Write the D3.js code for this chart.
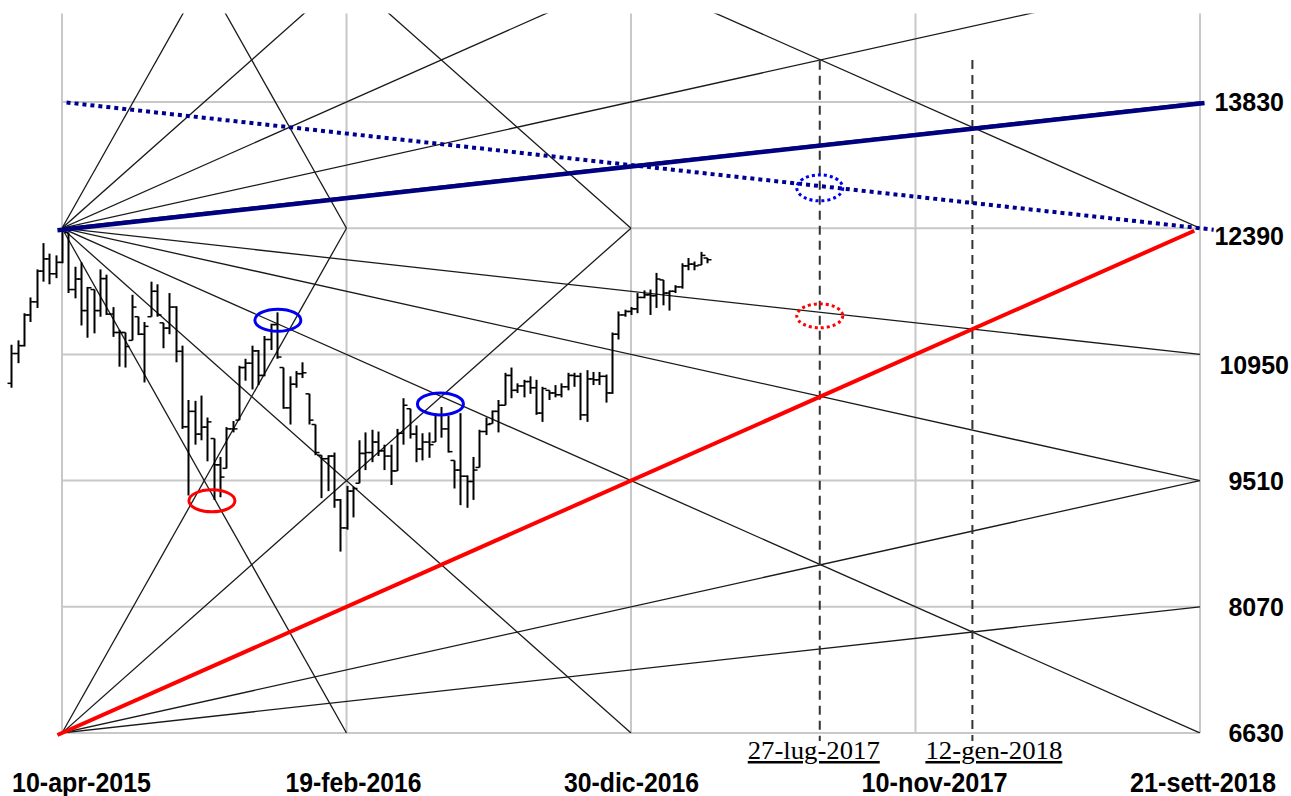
<!DOCTYPE html>
<html>
<head>
<meta charset="utf-8">
<script src="https://cdn.jsdelivr.net/npm/d3@7"></script>
<style>
  html, body { margin: 0; padding: 0; background: #fff; }
  svg { display: block; }
  .xlab { font-family: "Liberation Sans", Arial, sans-serif; font-weight: bold; font-size: 22px; fill: #000; }
  .ylab { font-family: "Liberation Sans", Arial, sans-serif; font-weight: bold; font-size: 25px; fill: #000; }
  .dlab { font-family: "Liberation Serif", "Times New Roman", serif; font-size: 25px; fill: #000; text-decoration: underline; }
</style>
</head>
<body>
<div id="chart"></div>
<script>
// time/price frame of the Gann square
const timeTicks = ["2015-04-10", "2016-02-19", "2016-12-30", "2017-11-10", "2018-09-21"];
const timeTickLabels = ["10-apr-2015", "19-feb-2016", "30-dic-2016", "10-nov-2017", "21-sett-2018"];
const priceTicks = [6630, 8070, 9510, 10950, 12390, 13830];
const priceTop = 14840;

// weekly bars: open, high, low, close (first bar week of 13-feb-2015)
const firstWeek = "2015-02-13";
const barOpen  = [10620,10960,11050,11400,11550,11900,12040,11870,12000,12340,11690,11810,11450,11690,11450,11815,11410,11200,11200,11110,11380,11180,11380,11670,11310,11250,11490,10985,10125,10300,10040,10120,9990,9690,9650,10100,10200,10800,10850,10990,10710,11120,11290,10800,10340,10610,10730,10500,10150,9800,9760,9790,9290,8970,9390,9480,9820,9830,9950,9850,9790,9620,10050,10330,10040,9870,9950,9950,10260,10100,9740,9630,9560,9500,9660,10070,10160,10300,10370,10710,10540,10590,10640,10570,10280,10540,10510,10490,10580,10710,10700,10260,10670,10660,10700,10510,11180,11400,11440,11470,11600,11630,11620,11800,11650,11670,11720,11960,11980,11970,12050];
const barHigh  = [11060,11110,11420,11600,11920,12220,12100,12080,12390,12340,11950,12000,11720,11690,11920,11860,11490,11230,11200,11630,11380,11320,11780,11750,11310,11650,11500,11050,10430,10420,10480,10230,9990,9780,10120,10190,10820,10900,11050,11000,11160,11300,11430,10800,10700,10760,10860,10500,10150,9800,9800,9830,9300,9450,9440,9970,10060,10090,10070,9920,9920,10100,10450,10330,10140,10050,10060,10280,10350,10250,9740,10280,9570,9780,10090,10230,10310,10430,10740,10800,10620,10660,10700,10660,10580,10540,10600,10620,10740,10740,10740,10770,10750,10750,10720,11200,11440,11460,11490,11650,11680,11690,11880,11800,11680,11740,11990,12050,12010,12120,12050];
const barLow   = [10570,10850,11040,11320,11480,11780,11750,11820,11990,11650,11590,11280,11140,11190,11380,11400,11150,10810,10800,11110,11170,10630,11380,11380,11020,11180,10860,10100,9340,9920,9970,9730,9290,9320,9650,10060,10200,10650,10550,10600,10700,11000,10900,10330,10150,10570,10680,10150,9800,9310,9390,9200,8700,8950,9090,9480,9630,9720,9790,9630,9460,9620,9920,9990,9720,9740,9770,9950,10000,9830,9420,9230,9200,9290,9660,10030,10160,10060,10370,10450,10510,10460,10500,10260,10180,10430,10460,10460,10540,10580,10200,10180,10600,10600,10400,10500,11120,11380,11400,11420,11590,11400,11480,11510,11450,11650,11700,11910,11910,11970,11990];
const barClose = [10960,11050,11400,11550,11900,12040,11870,12000,12375,11690,11810,11450,11710,11450,11815,11410,11200,11200,11040,11490,11180,11270,11670,11400,11250,11490,10985,10125,10300,10040,10120,10180,9690,9550,10100,10100,10800,10850,10990,10710,11120,11290,10920,10340,10610,10730,10740,10200,9830,9760,9790,9290,8970,9390,9420,9820,9830,9950,9850,9790,9620,10050,10370,10040,9870,9950,9920,10260,10100,9840,9630,9560,9500,9630,10070,10150,10300,10370,10710,10540,10590,10640,10570,10280,10560,10510,10490,10580,10710,10700,10260,10670,10660,10700,10510,11180,11400,11440,11470,11600,11630,11620,11810,11650,11670,11720,11960,11980,11960,12080,12030];

// fan lines: [date1, price1, date2, price2, ray?]  ray = keep going past point 2
const fanLines = [
  // from the 12390 top (10-apr-2015)
  ["2015-04-10", 12390, "2016-02-19", 18150, true],
  ["2015-04-10", 12390, "2016-02-19", 15270, true],
  ["2015-04-10", 12390, "2016-02-19", 13830, true],
  ["2015-04-10", 12390, "2016-12-30", 13830, true],
  ["2015-04-10", 12390, "2018-09-21", 13830, false],
  ["2015-04-10", 12390, "2018-09-21", 10950, false],
  ["2015-04-10", 12390, "2018-09-21", 9510, false],
  ["2015-04-10", 12390, "2018-09-21", 6630, false],
  ["2015-04-10", 12390, "2016-12-30", 6630, false],
  ["2015-04-10", 12390, "2016-02-19", 6630, false],
  // from the 6630 base
  ["2015-04-10", 6630, "2016-02-19", 12390, false],
  ["2015-04-10", 6630, "2016-12-30", 12390, false],
  ["2015-04-10", 6630, "2018-09-21", 9510, false],
  ["2015-04-10", 6630, "2018-09-21", 8070, false],
  // from the mirrored 18150 level
  ["2015-04-10", 18150, "2016-02-19", 12390, false],
  ["2015-04-10", 18150, "2016-12-30", 12390, false],
  ["2015-04-10", 18150, "2018-09-21", 12390, false]
];
const navyLine = ["2015-04-10", 12390, "2018-09-21", 13830];
const redLine = ["2015-04-10", 6630, "2018-09-21", 12390];
const dottedLine = ["2015-04-10", 13830, "2018-09-21", 12390];

// vertical time marks
const markDates = ["2017-07-27", "2018-01-12"];
const markLabels = ["27-lug-2017", "12-gen-2018"];
const markTop = [14300, 14310];

// highlighted spots: date, price, kind
const spots = [
  ["2015-09-23", 9280, "red"],
  ["2015-12-05", 11340, "blue"],
  ["2016-06-02", 10385, "blue"],
  ["2017-07-27", 12850, "blueDot"],
  ["2017-07-27", 11390, "redDot"]
];

const W = 1291, H = 796;
const parse = d3.timeParse("%Y-%m-%d");

const svg = d3.select("#chart").append("svg")
  .attr("width", W).attr("height", H);

const x = d3.scaleTime()
  .domain([parse(timeTicks[0]), parse(timeTicks[timeTicks.length - 1])])
  .range([62, 1200]);
const y = d3.scaleLinear()
  .domain([6630, 13830])
  .range([733, 102]);

const plotLeft = x.range()[0], plotRight = x.range()[1];
const plotTop = y(priceTop), plotBottom = y(6630);

svg.append("clipPath").attr("id", "plot")
  .append("rect")
  .attr("x", plotLeft).attr("y", plotTop)
  .attr("width", plotRight - plotLeft).attr("height", plotBottom - plotTop);

// grid
const grid = svg.append("g").attr("stroke", "#c8c8c8").attr("stroke-width", 2);
grid.selectAll("line.v").data(timeTicks).enter().append("line")
  .attr("x1", d => x(parse(d))).attr("x2", d => x(parse(d)))
  .attr("y1", plotTop).attr("y2", plotBottom);
grid.selectAll("line.h").data(priceTicks).enter().append("line")
  .attr("x1", plotLeft).attr("x2", plotRight)
  .attr("y1", d => y(d)).attr("y2", d => y(d));

// fan lines
function pt(d, p) { return [x(parse(d)), y(p)]; }
function lerp(a, b, t) { return [a[0] + (b[0] - a[0]) * t, a[1] + (b[1] - a[1]) * t]; }

const fans = svg.append("g").attr("clip-path", "url(#plot)");
fans.selectAll("line").data(fanLines).enter().append("line")
  .each(function(d) {
    const a = pt(d[0], d[1]), b = pt(d[2], d[3]);
    const e = d[4] ? lerp(a, b, 6) : b;
    d3.select(this)
      .attr("x1", a[0]).attr("y1", a[1])
      .attr("x2", e[0]).attr("y2", e[1]);
  })
  .attr("stroke", "#1a1a1a")
  .attr("stroke-width", 1.3);

// vertical dashed marks
const marks = svg.append("g");
markDates.forEach((d, i) => {
  const xx = x(parse(d));
  marks.append("line")
    .attr("x1", xx).attr("x2", xx)
    .attr("y1", y(markTop[i])).attr("y2", plotBottom + 8)
    .attr("stroke", "#333").attr("stroke-width", 2)
    .attr("stroke-dasharray", "9,6");
});

// price bars
const week0 = parse(firstWeek);
const bars = barClose.map((c, i) => ({
  date: d3.timeWeek.offset(week0, i),
  o: barOpen[i], h: barHigh[i], l: barLow[i], c: c
}));
const bg = svg.append("g").attr("stroke", "#000");
bars.forEach(b => {
  const xx = Math.round(x(b.date)) + 0.5;
  bg.append("line").attr("x1", xx).attr("x2", xx)
    .attr("y1", y(b.h)).attr("y2", y(b.l)).attr("stroke-width", 2);
  bg.append("line").attr("x1", xx - 4).attr("x2", xx)
    .attr("y1", y(b.o)).attr("y2", y(b.o)).attr("stroke-width", 1.5);
  bg.append("line").attr("x1", xx).attr("x2", xx + 4)
    .attr("y1", y(b.c)).attr("y2", y(b.c)).attr("stroke-width", 1.5);
});

// heavy lines
function heavy(def, t0, t1, color, width, dash) {
  const a = pt(def[0], def[1]), b = pt(def[2], def[3]);
  const p0 = lerp(a, b, t0), p1 = lerp(a, b, t1);
  const ln = svg.append("line")
    .attr("x1", p0[0]).attr("y1", p0[1])
    .attr("x2", p1[0]).attr("y2", p1[1])
    .attr("stroke", color).attr("stroke-width", width);
  if (dash) ln.attr("stroke-dasharray", dash);
  return ln;
}
heavy(navyLine, -0.004, 1.004, "#000080", 4.5).attr("transform", "translate(0,1.5)");
heavy(dottedLine, 0.004, 1.012, "#000090", 4, "4,4");
heavy(redLine, -0.004, 0.995, "#ff0000", 4);

// spots
const sp = svg.append("g").attr("fill", "none");
spots.forEach(s => {
  const e = sp.append("ellipse")
    .attr("cx", x(parse(s[0]))).attr("cy", y(s[1]))
    .attr("rx", 23).attr("ry", 11)
    .attr("stroke-width", 3);
  if (s[2] === "red") e.attr("stroke", "#ff0000");
  if (s[2] === "blue") e.attr("stroke", "#0000ee");
  if (s[2] === "blueDot") e.attr("stroke", "#0000ee").attr("stroke-dasharray", "3,3").attr("ry", 13);
  if (s[2] === "redDot") e.attr("stroke", "#ff0000").attr("stroke-dasharray", "3,3").attr("ry", 12);
});

// right price labels
svg.append("g").selectAll("text").data(priceTicks).enter().append("text")
  .attr("class", "ylab")
  .attr("x", d => d === 10950 ? 1289 : 1284)
  .attr("y", d => y(d) + (d === 12390 ? 17 : (d === 10950 ? 20 : 9)))
  .attr("text-anchor", "end")
  .text(d => d);

// bottom date labels (condensed, tall)
const xOff = [19.5, 7, 0.5, 19, 3];
const xLen = [139, 136, 135, 146, 146];
const xl = svg.append("g");
timeTicks.forEach((d, i) => {
  xl.append("g")
    .attr("transform", `translate(${x(parse(d)) + xOff[i]},792) scale(1,1.22)`)
    .append("text")
    .attr("class", "xlab")
    .attr("text-anchor", "middle")
    .attr("textLength", xLen[i])
    .attr("lengthAdjust", "spacingAndGlyphs")
    .text(timeTickLabels[i]);
});

// mark labels
const mOff = [-6, 21.5];
const mLen = [132, 137];
svg.append("g").selectAll("text").data(markDates).enter().append("text")
  .attr("class", "dlab")
  .attr("x", (d, i) => x(parse(d)) + mOff[i])
  .attr("y", 759)
  .attr("text-anchor", "middle")
  .attr("textLength", (d, i) => mLen[i])
  .attr("lengthAdjust", "spacingAndGlyphs")
  .text((d, i) => markLabels[i]);
</script>
</body>
</html>
